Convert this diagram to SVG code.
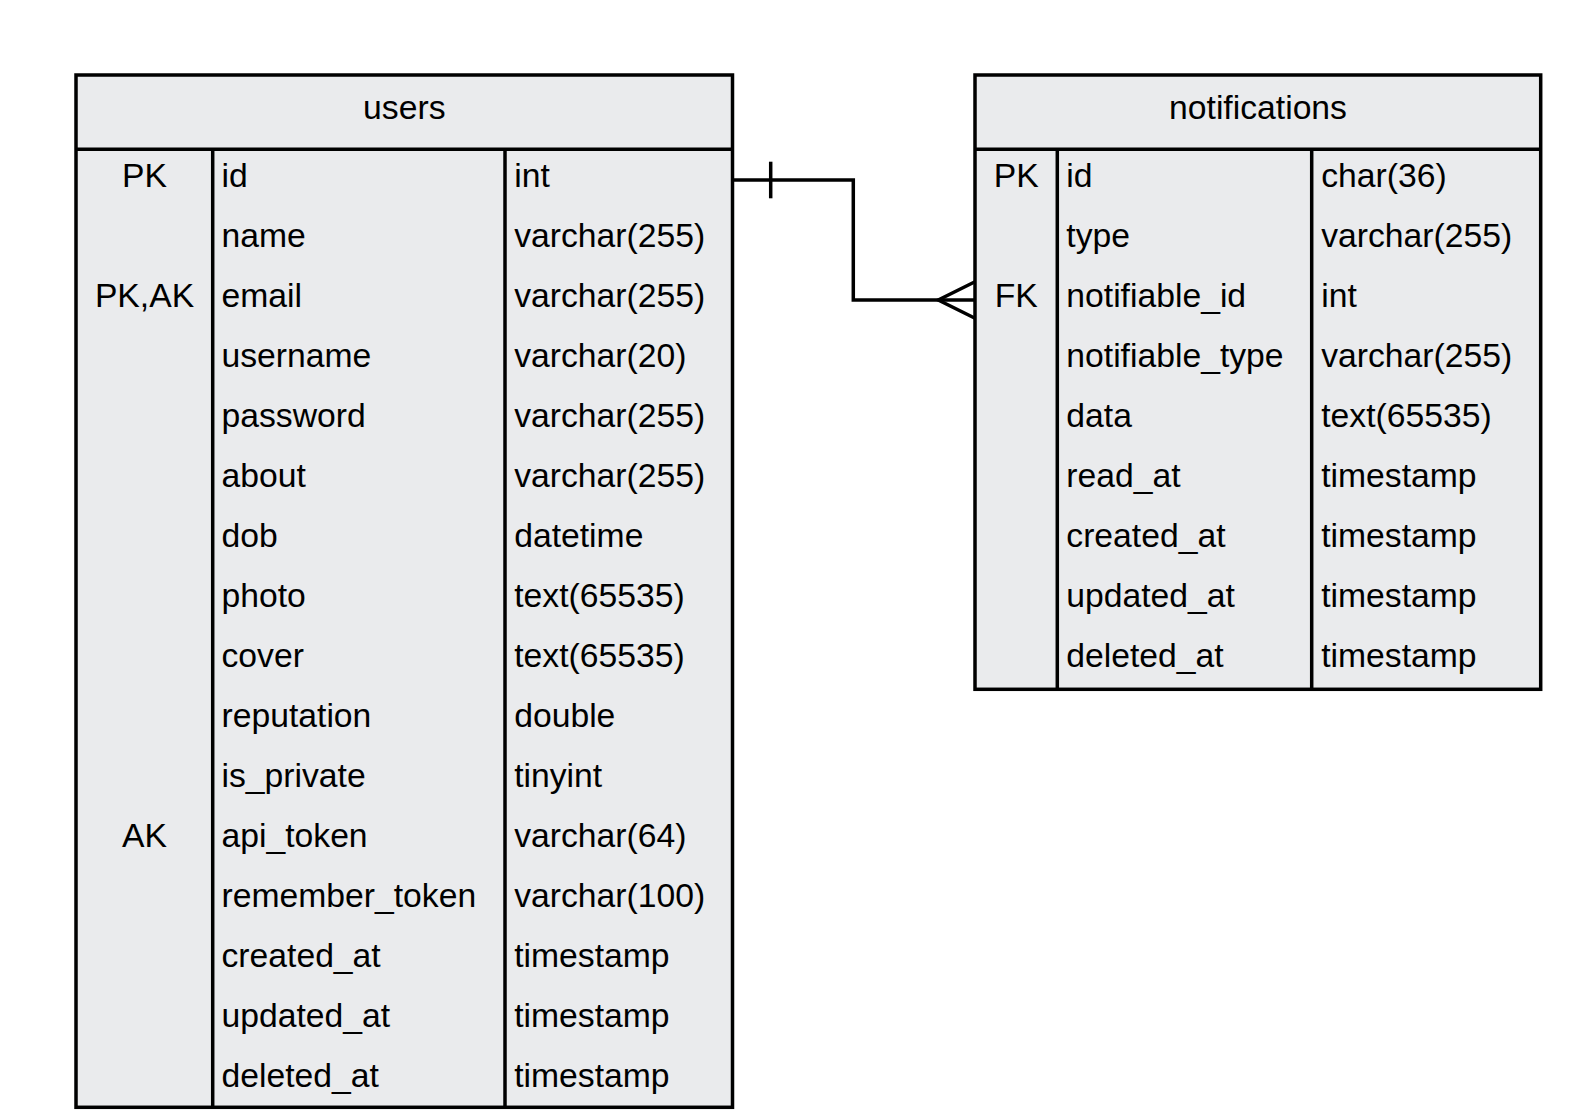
<svg xmlns="http://www.w3.org/2000/svg" width="1575" height="1110" viewBox="0 0 1575 1110">
<style>
.box{fill:#EAEBED;stroke:#000;stroke-width:3.5}
.ln{stroke:#000;stroke-width:3.5;fill:none}
.t{font-family:"Liberation Sans",Arial,sans-serif;font-size:33.7px;fill:#000}
.c{text-anchor:middle}
</style>
<rect width="1575" height="1110" fill="#fff"/>
<g id="users">
<rect class="box" x="76" y="75" width="656.5" height="1032.3"/>
<line class="ln" x1="76" y1="149.3" x2="732.5" y2="149.3"/>
<line class="ln" x1="212.7" y1="149.3" x2="212.7" y2="1107.3"/>
<line class="ln" x1="505" y1="149.3" x2="505" y2="1107.3"/>
<text class="t c" x="404.3" y="118.5">users</text>
<g class="t">
<text class="c" x="144.5" y="186.5">PK</text>
<text class="c" x="144.5" y="306.5">PK,AK</text>
<text class="c" x="144.5" y="846.5">AK</text>
<text x="221.5" y="186.5">id</text>
<text x="221.5" y="246.5">name</text>
<text x="221.5" y="306.5">email</text>
<text x="221.5" y="366.5">username</text>
<text x="221.5" y="426.5">password</text>
<text x="221.5" y="486.5">about</text>
<text x="221.5" y="546.5">dob</text>
<text x="221.5" y="606.5">photo</text>
<text x="221.5" y="666.5">cover</text>
<text x="221.5" y="726.5">reputation</text>
<text x="221.5" y="786.5">is_private</text>
<text x="221.5" y="846.5">api_token</text>
<text x="221.5" y="906.5">remember_token</text>
<text x="221.5" y="966.5">created_at</text>
<text x="221.5" y="1026.5">updated_at</text>
<text x="221.5" y="1086.5">deleted_at</text>
<text x="514.2" y="186.5">int</text>
<text x="514.2" y="246.5">varchar(255)</text>
<text x="514.2" y="306.5">varchar(255)</text>
<text x="514.2" y="366.5">varchar(20)</text>
<text x="514.2" y="426.5">varchar(255)</text>
<text x="514.2" y="486.5">varchar(255)</text>
<text x="514.2" y="546.5">datetime</text>
<text x="514.2" y="606.5">text(65535)</text>
<text x="514.2" y="666.5">text(65535)</text>
<text x="514.2" y="726.5">double</text>
<text x="514.2" y="786.5">tinyint</text>
<text x="514.2" y="846.5">varchar(64)</text>
<text x="514.2" y="906.5">varchar(100)</text>
<text x="514.2" y="966.5">timestamp</text>
<text x="514.2" y="1026.5">timestamp</text>
<text x="514.2" y="1086.5">timestamp</text>
</g>
</g>
<g id="notifications">
<rect class="box" x="975" y="75" width="565.7" height="614.3"/>
<line class="ln" x1="975" y1="149.3" x2="1540.7" y2="149.3"/>
<line class="ln" x1="1057.3" y1="149.3" x2="1057.3" y2="689.3"/>
<line class="ln" x1="1311.7" y1="149.3" x2="1311.7" y2="689.3"/>
<text class="t c" x="1258" y="118.5">notifications</text>
<g class="t">
<text class="c" x="1016.2" y="186.5">PK</text>
<text class="c" x="1016.2" y="306.5">FK</text>
<text x="1066.3" y="186.5">id</text>
<text x="1066.3" y="246.5">type</text>
<text x="1066.3" y="306.5">notifiable_id</text>
<text x="1066.3" y="366.5">notifiable_type</text>
<text x="1066.3" y="426.5">data</text>
<text x="1066.3" y="486.5">read_at</text>
<text x="1066.3" y="546.5">created_at</text>
<text x="1066.3" y="606.5">updated_at</text>
<text x="1066.3" y="666.5">deleted_at</text>
<text x="1321.2" y="186.5">char(36)</text>
<text x="1321.2" y="246.5">varchar(255)</text>
<text x="1321.2" y="306.5">int</text>
<text x="1321.2" y="366.5">varchar(255)</text>
<text x="1321.2" y="426.5">text(65535)</text>
<text x="1321.2" y="486.5">timestamp</text>
<text x="1321.2" y="546.5">timestamp</text>
<text x="1321.2" y="606.5">timestamp</text>
<text x="1321.2" y="666.5">timestamp</text>
</g>
</g>
<g id="connectors">
<polyline class="ln" points="732.5,180 853.3,180 853.3,300 975,300"/>
<line class="ln" x1="770.7" y1="161.7" x2="770.7" y2="198.3"/>
<polyline class="ln" points="975,281.7 938.3,300 975,318.3"/>
</g>
</svg>
